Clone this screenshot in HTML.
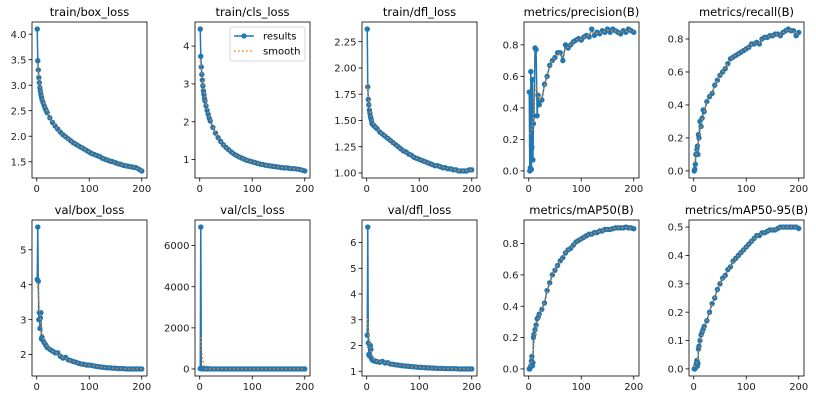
<!DOCTYPE html>
<html><head><meta charset="utf-8"><style>
html,body{margin:0;padding:0;background:#fff;}
svg{display:block;font-family:"DejaVu Sans","Liberation Sans",sans-serif;}
</style></head><body>
<svg id="fig" width="816" height="400" viewBox="0 0 816 400"></svg>
<script>
const epochs = [1,2,3,4,5,6,7,8,9,10,12,14,16,18,20,25,30,35,40,45,50,55,60,65,70,75,80,85,90,95,100,105,110,115,120,125,130,135,140,145,150,155,160,165,170,175,180,185,190,195,200];
const trainBox = [4.1,3.48,3.3,3.15,3.05,2.95,2.88,2.82,2.77,2.72,2.66,2.6,2.55,2.5,2.46,2.36,2.27,2.2,2.14,2.08,2.03,1.99,1.95,1.91,1.87,1.84,1.81,1.78,1.75,1.72,1.69,1.66,1.64,1.62,1.6,1.57,1.55,1.53,1.51,1.5,1.48,1.46,1.45,1.43,1.42,1.41,1.4,1.39,1.38,1.35,1.32];
const trainCls = [4.45,3.73,3.45,3.25,3.1,2.95,2.82,2.72,2.62,2.55,2.42,2.3,2.2,2.1,2.02,1.85,1.7,1.58,1.48,1.39,1.32,1.26,1.2,1.15,1.11,1.07,1.04,1.01,0.98,0.96,0.94,0.92,0.9,0.88,0.87,0.85,0.84,0.83,0.82,0.81,0.8,0.79,0.78,0.78,0.77,0.76,0.76,0.75,0.74,0.72,0.7];
const trainDfl = [2.37,1.82,1.7,1.65,1.6,1.57,1.54,1.52,1.5,1.47,1.46,1.45,1.44,1.43,1.42,1.39,1.37,1.35,1.33,1.31,1.29,1.27,1.25,1.23,1.21,1.2,1.18,1.17,1.15,1.14,1.13,1.12,1.11,1.1,1.09,1.08,1.07,1.07,1.06,1.05,1.05,1.04,1.04,1.03,1.03,1.02,1.02,1.02,1.02,1.03,1.03];
const precision = [0.5,0.0,0.02,0.63,0.01,0.15,0.58,0.07,0.3,0.35,0.78,0.77,0.35,0.48,0.42,0.45,0.55,0.6,0.67,0.7,0.72,0.75,0.75,0.7,0.8,0.78,0.8,0.82,0.83,0.84,0.83,0.85,0.86,0.85,0.9,0.86,0.88,0.87,0.89,0.88,0.9,0.88,0.9,0.89,0.88,0.87,0.89,0.88,0.9,0.89,0.88];
const recall = [0.0,0.01,0.04,0.1,0.1,0.13,0.15,0.1,0.22,0.2,0.3,0.27,0.32,0.37,0.36,0.42,0.45,0.47,0.52,0.55,0.58,0.6,0.62,0.65,0.68,0.69,0.7,0.71,0.72,0.73,0.74,0.75,0.77,0.77,0.78,0.77,0.8,0.81,0.81,0.82,0.82,0.83,0.83,0.82,0.84,0.85,0.86,0.85,0.85,0.82,0.84];
const valBox = [4.15,5.65,4.1,3.0,3.2,2.75,3.05,3.2,2.45,2.5,2.4,2.35,2.3,2.25,2.2,2.15,2.1,2.05,2.05,1.95,1.9,1.92,1.85,1.83,1.8,1.78,1.75,1.73,1.72,1.7,1.7,1.69,1.67,1.66,1.65,1.64,1.63,1.62,1.62,1.61,1.61,1.6,1.6,1.6,1.59,1.59,1.59,1.59,1.59,1.59,1.59];
const valCls = [20,6900,30,12,10,9,8,8,7,7,6,6,6,5,5,5,5,5,4,4,4,4,4,4,4,4,4,4,4,4,4,4,4,4,4,4,4,4,4,4,4,4,4,4,4,4,4,4,4,4,4];
const valDfl = [2.4,6.6,2.1,1.65,1.6,1.95,2.0,1.85,1.5,1.45,1.42,1.4,1.4,1.38,1.37,1.35,1.38,1.32,1.33,1.28,1.27,1.25,1.24,1.22,1.21,1.2,1.19,1.18,1.17,1.16,1.15,1.15,1.14,1.13,1.13,1.12,1.12,1.11,1.11,1.11,1.1,1.1,1.1,1.1,1.1,1.09,1.09,1.09,1.09,1.09,1.09];
const map50 = [0.0,0.0,0.01,0.02,0.05,0.08,0.02,0.04,0.2,0.22,0.25,0.28,0.32,0.33,0.35,0.38,0.42,0.5,0.55,0.6,0.63,0.66,0.69,0.71,0.74,0.76,0.77,0.79,0.81,0.82,0.83,0.84,0.85,0.86,0.86,0.87,0.87,0.88,0.88,0.89,0.89,0.89,0.895,0.9,0.9,0.9,0.9,0.905,0.9,0.9,0.895];
const map5095 = [0.0,0.0,0.003,0.01,0.02,0.03,0.01,0.02,0.07,0.08,0.1,0.12,0.13,0.14,0.15,0.17,0.2,0.23,0.25,0.28,0.3,0.32,0.33,0.35,0.36,0.38,0.39,0.4,0.41,0.42,0.43,0.44,0.45,0.46,0.47,0.47,0.48,0.48,0.485,0.49,0.49,0.49,0.495,0.5,0.5,0.5,0.5,0.5,0.5,0.5,0.495];
const titles = ["train/box_loss","train/cls_loss","train/dfl_loss","metrics/precision(B)","metrics/recall(B)","val/box_loss","val/cls_loss","val/dfl_loss","metrics/mAP50(B)","metrics/mAP50-95(B)"];
const xTicks = [0,100,200];
const yTickLabels = [
 ["1.5","2.0","2.5","3.0","3.5","4.0"],
 ["1","2","3","4"],
 ["1.00","1.25","1.50","1.75","2.00","2.25"],
 ["0.0","0.2","0.4","0.6","0.8"],
 ["0.0","0.2","0.4","0.6","0.8"],
 ["2","3","4","5"],
 ["0","2000","4000","6000"],
 ["1","2","3","4","5","6"],
 ["0.0","0.2","0.4","0.6","0.8"],
 ["0.0","0.1","0.2","0.3","0.4","0.5"]
];
const series = [trainBox,trainCls,trainDfl,precision,recall,valBox,valCls,valDfl,map50,map5095];

const NS="http://www.w3.org/2000/svg";
const fig=document.getElementById('fig');
function mk(tag,attrs,parent){const e=document.createElementNS(NS,tag);for(const k in attrs)e.setAttribute(k,attrs[k]);(parent||fig).appendChild(e);return e;}
function smooth(xs,ys,sigma){return ys.map((_,i)=>{let s=0,w=0;for(let j=0;j<xs.length;j++){const d=xs[j]-xs[i];const wt=Math.exp(-d*d/(2*sigma*sigma));s+=wt*ys[j];w+=wt;}return s/w;});}
const colX=[32,195,362,524,689], rowY=[22,220], W=115, H=156;
series.forEach((ys,k)=>{
  const col=k%5,row=Math.floor(k/5);
  const L=colX[col],T=rowY[row];
  const g=mk('g',{});
  
  
  let mn=Math.min(...ys),mx=Math.max(...ys);const pad=(mx-mn)*0.05;const y0=mn-pad,y1=mx+pad;
  const xMin=-9,xMax=210;
  const sx=v=>L+(v-xMin)/(xMax-xMin)*W;
  const sy=v=>T+H-(v-y0)/(y1-y0)*H;
  const t=mk('text',{x:L+W/2,y:T-6,'text-anchor':'middle','font-size':'11.5','fill':'#000'},g);t.textContent=titles[k];
  
  xTicks.forEach(v=>{const x=sx(v);mk('line',{x1:x,x2:x,y1:T+H,y2:T+H+3.5,stroke:'#000','stroke-width':0.8},g);
    const tl=mk('text',{x:x,y:T+H+14,'text-anchor':'middle','font-size':'10','fill':'#222'},g);tl.textContent=v;
    });
  yTickLabels[k].forEach(s=>{const v=parseFloat(s);const y=sy(v);mk('line',{x1:L-3.5,x2:L,y1:y,y2:y,stroke:'#000','stroke-width':0.8},g);
    const tl=mk('text',{x:L-5.5,y:y+3.6,'text-anchor':'end','font-size':'10','fill':'#222'},g);tl.textContent=s;
    });
  const pts=epochs.map((e,i)=>sx(e).toFixed(2)+','+sy(ys[i]).toFixed(2)).join(' ');
  const pl=mk('polyline',{points:pts,fill:'none',stroke:'#1f77b4','stroke-width':1.5},g);
  
  epochs.forEach((e,i)=>{const c=mk('circle',{cx:sx(e),cy:sy(ys[i]),r:2.7,fill:'#1f77b4'},g);
    });
  const sm=smooth(epochs,ys,3);
  const sp=mk('polyline',{points:epochs.map((e,i)=>sx(e).toFixed(2)+','+sy(sm[i]).toFixed(2)).join(' '),fill:'none',stroke:'#ff7f0e','stroke-width':1.5,'stroke-dasharray':'1.5 2.5'},g);
  
  const fr=mk('rect',{x:L,y:T,width:W,height:H,fill:'none',stroke:'#000','stroke-width':0.8},g);
  
});
const lg=mk('g',{});


mk('rect',{x:230,y:27,width:75,height:34,rx:2,fill:'#fff','fill-opacity':0.8,stroke:'#ccc','stroke-width':0.8},lg);
mk('line',{x1:234,x2:254,y1:36,y2:36,stroke:'#1f77b4','stroke-width':1.5},lg);
mk('circle',{cx:244,cy:36,r:2.6,fill:'#1f77b4'},lg);
mk('line',{x1:234,x2:254,y1:51,y2:51,stroke:'#ff7f0e','stroke-width':1.5,'stroke-dasharray':'1.5 2.5'},lg);
const l1=mk('text',{x:263,y:39.5,'font-size':'10','fill':'#000'},lg);l1.textContent='results';


const l2=mk('text',{x:263,y:54.5,'font-size':'10','fill':'#000'},lg);l2.textContent='smooth';


</script>
</body></html>
